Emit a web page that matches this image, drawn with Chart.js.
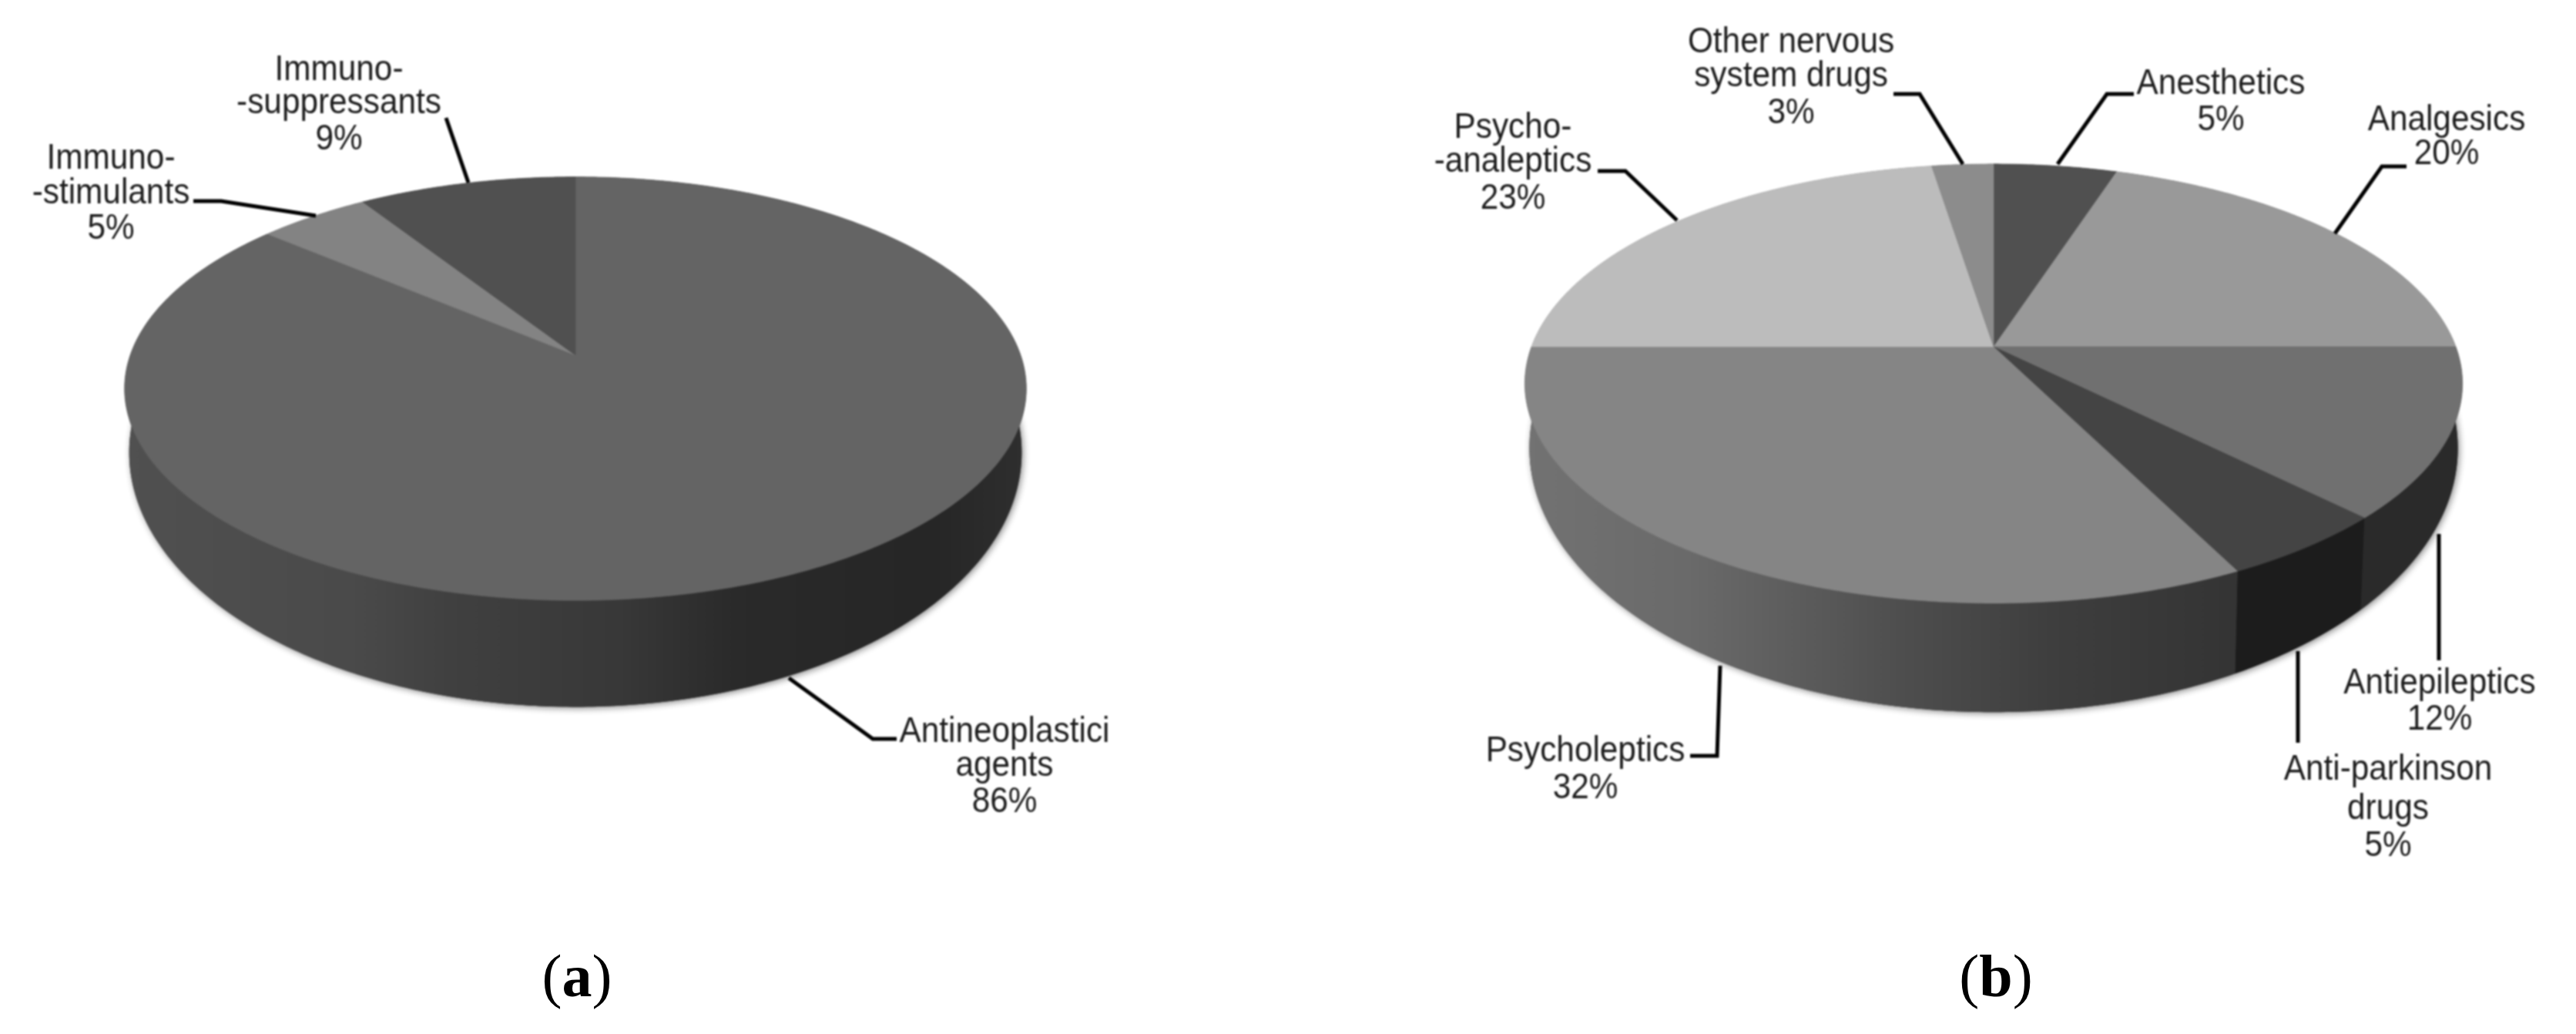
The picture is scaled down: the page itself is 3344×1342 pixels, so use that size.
<!DOCTYPE html>
<html><head><meta charset="utf-8">
<script src="https://cdn.jsdelivr.net/npm/chart.js@4/dist/chart.umd.min.js"></script>
<style>
html,body{margin:0;padding:0;background:#fff;width:3344px;height:1342px;overflow:hidden}
canvas{position:absolute;top:0;filter:blur(0.8px)}
.cap{position:absolute;top:1222px;width:300px;margin-left:-150px;text-align:center;font:78px "Liberation Serif",serif;color:#000}
.cap b{font-weight:bold}
</style></head><body>
<canvas id="ca" width="1672" height="1342" style="left:0"></canvas>
<canvas id="cb" width="1672" height="1342" style="left:1672px"></canvas>
<div class="cap" style="left:749px">(<b>a</b>)</div>
<div class="cap" style="left:2591px">(<b>b</b>)</div>
<script>
// ---- data ----
const categoriesA = ['Antineoplastici agents','Immuno-stimulants','Immuno-suppressants'];
const valuesA = [86.2, 4.7, 9.1];
const textA = [['Antineoplastici','agents','86%'],['Immuno-','-stimulants','5%'],['Immuno-','-suppressants','9%']];
const categoriesB = ['Anesthetics','Analgesics','Antiepileptics','Anti-parkinson drugs','Psycholeptics','Psycho-analeptics','Other nervous system drugs'];
const valuesB = [5, 20, 12.5, 5.1, 32.4, 22.5, 2.5];
const textB = [['Anesthetics','5%'],['Analgesics','20%'],['Antiepileptics','12%'],['Anti-parkinson','drugs','5%'],['Psycholeptics','32%'],['Psycho-','-analeptics','23%'],['Other nervous','system drugs','3%']];

// ---- styles ----
const topColorsA = ['#646464','#838383','#505050'];
const topColorsB = ['#505050','#999999','#707070','#444444','#858585','#bcbcbc','#8c8c8c'];
const sideA = [[[0,'#505050'],[.25,'#4a4a4a'],[.36,'#404040'],[.55,'#383838'],[.68,'#2a2a2a'],[.9,'#262626'],[1,'#2e2e2e']],
               [[0,'#505050'],[1,'#505050']],[[0,'#404040'],[1,'#404040']]];
const sideB = [[[0,'#333'],[1,'#333']],[[0,'#555'],[1,'#555']],[[0,'#2a2a2a'],[1,'#2a2a2a']],[[0,'#1c1c1c'],[1,'#1c1c1c']],
               [[0,'#727272'],[.17,'#6a6a6a'],[.23,'#636363'],[.32,'#585858'],[.4,'#4e4e4e'],[.565,'#3e3e3e'],[.76,'#343434'],[1,'#303030']],
               [[0,'#777'],[1,'#777']],[[0,'#666'],[1,'#666']]];

// ---- layout (full-page px) ----
const geomA = {ox:0,   cx:747,  cy:461, A:268, B:578, k:.158, cy2:535, A2:322, B2:572, k2:.158};
const geomB = {ox:1672,cx:2588, cy:450, A:277, B:600, k:.168, cy2:524, A2:333, B2:594, k2:.168};
const labelsA = [{at:[1304,[950,994,1041]],line:[[1024,880],[1133,959],[1164,959]]},
                 {at:[144,[206,251,297]],line:[[251,261],[287,261],[410,280]]},
                 {at:[440,[91,134,181]],line:[[579,153],[608,237]]}];
const labelsB = [{at:[2883,[109,156]],line:[[2770,122],[2735,122],[2671,213]]},
                 {at:[3176,[156,200]],line:[[3124,216],[3092,216],[3031,303]]},
                 {at:[3167,[887,934]],line:[[3166,693],[3166,857]]},
                 {at:[3100,[999,1050,1098]],line:[[2983,845],[2983,964]]},
                 {at:[2058,[975,1023]],line:[[2233,864],[2229,981],[2194,981]]},
                 {at:[1964,[166,210,258]],line:[[2074,222],[2110,222],[2177,286]]},
                 {at:[2325,[55,99,147]],line:[[2458,122],[2492,122],[2548,213]]}];

function project(g,a,lower){
  const u=Math.cos(a),v=Math.sin(a);
  const k=lower?g.k2:g.k, w=1-k*v;
  return [(g.cx-g.ox)+(lower?g.B2:g.B)*u/w,(lower?g.cy2:g.cy)+(lower?g.A2:g.A)*v/w];
}
function arcPts(g,a0,a1,lower){
  const n=Math.max(2,Math.ceil(Math.abs(a1-a0)/0.01)),p=[];
  for(let i=0;i<=n;i++)p.push(project(g,a0+(a1-a0)*i/n,lower));
  return p;
}
class Pie3D extends Chart.PieController{
  draw(){
    const ctx=this.chart.ctx,o=this.chart.options.plugins.pie3d,g=o.geom;
    const els=this._cachedMeta.data;
    // soft shadow under the solid
    ctx.save();
    ctx.shadowColor='rgba(0,0,0,.45)';ctx.shadowBlur=9;ctx.shadowOffsetX=2;ctx.shadowOffsetY=2;
    ctx.fillStyle='#333';ctx.beginPath();
    arcPts(g,0,Math.PI*2,true).forEach(p=>ctx.lineTo(p[0],p[1]));ctx.closePath();ctx.fill();
    ctx.restore();
    // side walls
    els.forEach((el,i)=>{
      const t=arcPts(g,el.startAngle,el.endAngle,false),b=arcPts(g,el.startAngle,el.endAngle,true).reverse();
      const gr=ctx.createLinearGradient(g.cx-g.ox-g.B,0,g.cx-g.ox+g.B,0);
      o.side[i].forEach(s=>gr.addColorStop(s[0],s[1]));
      ctx.fillStyle=gr;ctx.beginPath();
      t.concat(b).forEach(p=>ctx.lineTo(p[0],p[1]));ctx.closePath();ctx.fill();
    });
    // top faces
    els.forEach(el=>{
      ctx.fillStyle=ctx.strokeStyle=el.options.backgroundColor;ctx.lineWidth=.6;
      ctx.beginPath();ctx.moveTo(g.cx-g.ox,g.cy);
      arcPts(g,el.startAngle,el.endAngle,false).forEach(p=>ctx.lineTo(p[0],p[1]));
      ctx.closePath();ctx.fill();ctx.stroke();
    });
  }
}
Pie3D.id='pie3d';
Pie3D.defaults=Chart.PieController.defaults;
Pie3D.overrides=Chart.PieController.overrides;
Chart.register(Pie3D);

const labelPlugin={id:'calloutText',afterDraw(c){
  const o=c.options.plugins.calloutText,ctx=c.ctx,ox=o.ox;
  ctx.save();ctx.strokeStyle='#000';ctx.lineWidth=5;ctx.lineJoin='miter';
  o.layout.forEach((l,i)=>{
    ctx.beginPath();l.line.forEach(p=>ctx.lineTo(p[0]-ox,p[1]));ctx.stroke();
    ctx.fillStyle='#1c1c1c';ctx.font='46px "Liberation Sans"';ctx.textAlign='center';ctx.textBaseline='middle';
    o.text[i].forEach((s,j)=>{
      ctx.save();ctx.translate(l.at[0]-ox,l.at[1][j]);ctx.scale(.92,1);ctx.fillText(s,0,0);ctx.restore();
    });
  });
  ctx.restore();
}};
function make(id,cats,vals,cols,geom,side,layout,text){
  return new Chart(document.getElementById(id),{type:'pie3d',
    data:{labels:cats,datasets:[{data:vals,backgroundColor:cols,borderWidth:0}]},
    options:{responsive:false,animation:false,events:[],
      plugins:{legend:{display:false},tooltip:{enabled:false},
        pie3d:{geom,side},calloutText:{ox:geom.ox,layout,text}}},
    plugins:[labelPlugin]});
}
make('ca',categoriesA,valuesA,topColorsA,geomA,sideA,labelsA,textA);
make('cb',categoriesB,valuesB,topColorsB,geomB,sideB,labelsB,textB);
</script></body></html>
